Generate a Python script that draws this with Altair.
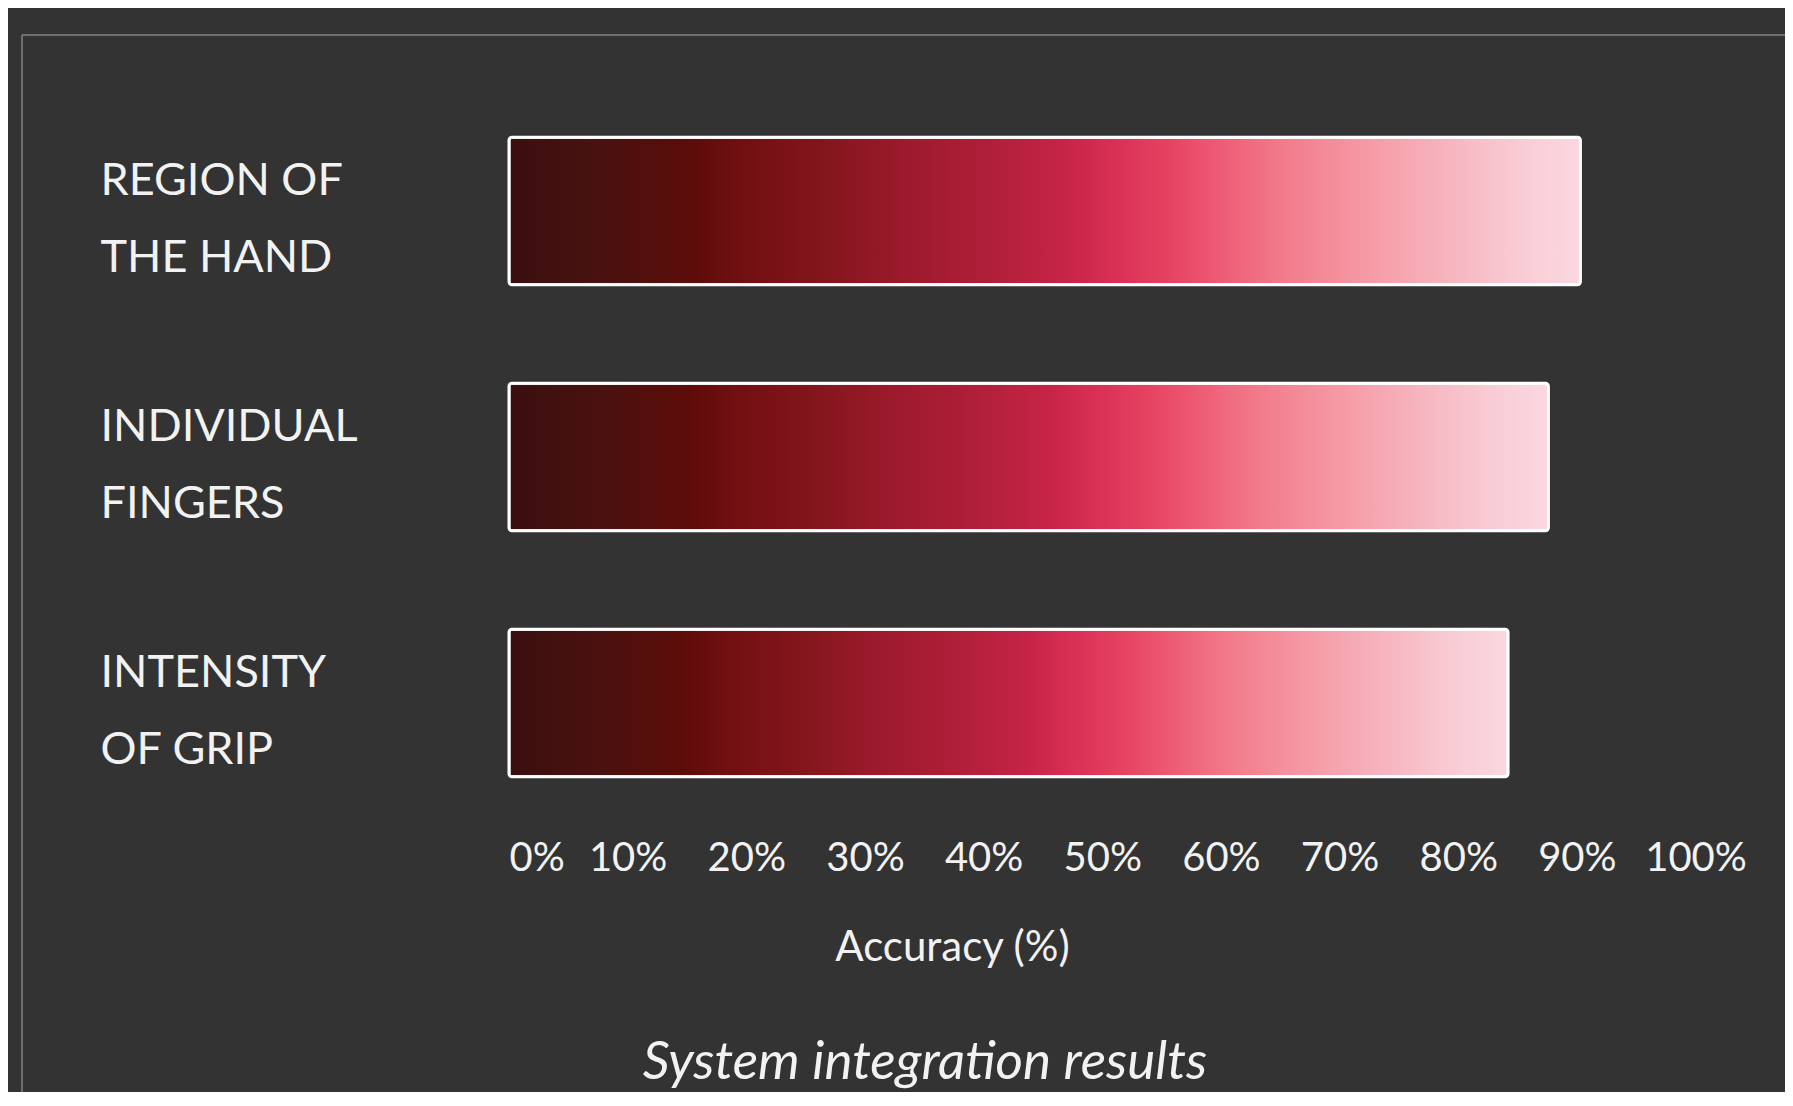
import altair as alt
import pandas as pd

# ---- data ----
categories = ["REGION OF\nTHE HAND", "INDIVIDUAL\nFINGERS", "INTENSITY\nOF GRIP"]
accuracy = [90.3, 87.6, 84.2]
tick_values = [0, 10, 20, 30, 40, 50, 60, 70, 80, 90, 100]
x_title = "Accuracy (%)"
caption = "System integration results"

# ---- styling ----
BG = "#333333"
TXT = "#f2f2f2"
FONT = "Lato"
grad_offsets = [0.0, 0.09, 0.17, 0.22, 0.30, 0.37, 0.45, 0.52, 0.56, 0.61, 0.65, 0.72, 0.80, 0.88, 0.95, 1.0]
grad_colors = ["#3a0f0f", "#4a120f", "#5c0c0a", "#720f11", "#85161e", "#9c1a2c", "#b01f39",
               "#c62446", "#d82e55", "#e4405f", "#ec5470", "#f27a8a", "#f59aa5", "#f6b6c0",
               "#f9cdd6", "#fad8e0"]

df = pd.DataFrame({"category": categories, "accuracy": accuracy})

gradient = alt.Gradient(
    gradient="linear",
    stops=[alt.GradientStop(color=c, offset=o) for o, c in zip(grad_offsets, grad_colors)],
    x1=0, x2=1, y1=0, y2=0,
)

W, H = 1234, 738

bars = alt.Chart(df).mark_bar(
    color=gradient, stroke="white", strokeWidth=3, cornerRadius=3
).encode(
    x=alt.X(
        "accuracy:Q",
        scale=alt.Scale(domain=[0, 104], nice=False, zero=True),
        axis=alt.Axis(
            values=tick_values,
            labelExpr="datum.value + '%'",
            labelFont=FONT, labelFontSize=40, labelColor=TXT,
            labelFlush=5, labelPadding=12,
            ticks=False, domain=False, grid=False,
            title=x_title, titleFont=FONT, titleFontSize=42, titleFontWeight="normal",
            titleColor=TXT, titleX=443, titleY=134, titleAlign="center",
            titleBaseline="alphabetic",
        ),
    ),
    y=alt.Y(
        "category:N",
        sort=categories,
        scale=alt.Scale(paddingInner=0.4, paddingOuter=0.2),
        axis=alt.Axis(
            labelExpr="split(datum.label, '\\n')",
            labelFont=FONT, labelFontSize=45, labelColor=TXT,
            labelAlign="left", labelBaseline="middle", labelPadding=409,
            labelLineHeight=77, labelOffset=-30, labelLimit=0,
            ticks=False, domain=False, grid=False, title=None,
        ),
    ),
)

frame_data = alt.Data(values=[{"k": 1}])
frame_v = alt.Chart(frame_data).mark_rule(color="#6e6e6e", strokeWidth=2).encode(
    x=alt.value(-487), y=alt.value(-53), y2=alt.value(1200)
)
frame_h = alt.Chart(frame_data).mark_rule(color="#6e6e6e", strokeWidth=2).encode(
    x=alt.value(-487), x2=alt.value(1400), y=alt.value(-53)
)

cap = alt.Chart(alt.Data(values=[{"t": caption}])).mark_text(
    font=FONT, fontSize=53, fontStyle="italic", color=TXT, align="center", baseline="alphabetic"
).encode(
    text="t:N", x=alt.value(416), y=alt.value(991)
)

chart = alt.layer(frame_v, frame_h, bars, cap).properties(
    width=W, height=H,
    autosize=alt.AutoSizeParams(type="none"),
    padding={"left": 501, "top": 80, "right": 42, "bottom": 266},
    background=BG,
).configure_view(stroke=None)

chart.save("out.html", embed_options={"renderer": "svg", "actions": False})
